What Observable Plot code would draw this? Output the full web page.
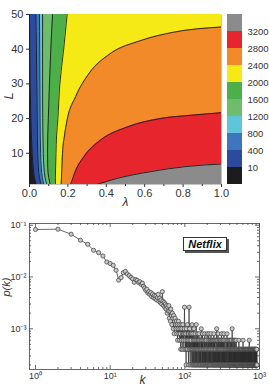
<!DOCTYPE html>
<html>
<head>
<meta charset="utf-8">
<script src="https://cdn.jsdelivr.net/npm/d3@7"></script>
<script src="https://cdn.jsdelivr.net/npm/@observablehq/plot@0.6"></script>
<style>
  body { margin: 0; background: #fff; }
  #fig { position: relative; width: 269px; height: 388px; overflow: hidden; background: #fff; }
  #fig svg { position: absolute; }
  #tag {
    position: absolute; left: 183px; top: 237px; width: 42px; height: 12px;
    border: 1px solid #333; box-shadow: 2px 2px 0 #555; background: #fff;
    font: italic bold 11px "Liberation Sans", Arial, sans-serif;
    text-align: center; line-height: 12px; color: #111;
  }
</style>
</head>
<body>
<div id="fig"><div id="tag">Netflix</div></div>
<script>
// ---- Contour map of the score over (λ, L) ----
// Near-vertical level lines: λ position of each line at these L rows
const rowsL   = [1, 3, 6, 10, 15, 20, 30, 40, 50];
const lam10   = [0.034, 0.026, 0.019, 0.014, 0.010, 0.007, 0.003, 0.001, 0.000];
const lam400  = [0.060, 0.052, 0.046, 0.043, 0.041, 0.040, 0.038, 0.036, 0.033];
const lam800  = [0.075, 0.067, 0.061, 0.058, 0.056, 0.055, 0.054, 0.053, 0.052];
const lam1200 = [0.090, 0.081, 0.075, 0.072, 0.070, 0.069, 0.068, 0.068, 0.068];
const lam1600 = [0.108, 0.100, 0.095, 0.094, 0.095, 0.098, 0.104, 0.111, 0.120];
const lam2000 = [0.135, 0.135, 0.136, 0.138, 0.141, 0.148, 0.158, 0.178, 0.196];

// Upper level lines: L against λ
const lam2400 = [0.165, 0.168, 0.172, 0.182, 0.196, 0.24, 0.31, 0.42, 0.58, 0.75, 1.0];
const L2400   = [1, 5, 10, 15, 19.6, 26.3, 33, 38.7, 42.5, 44.9, 46.4];
const lam2800 = [0.214, 0.24, 0.283, 0.37, 0.51, 0.68, 0.85, 1.0];
const L2800   = [1, 5, 9, 13.8, 17.6, 20, 21, 21.7];
const lam3200 = [0.35, 0.46, 0.63, 0.82, 1.0];
const L3200   = [1, 2.8, 4.7, 6.2, 6.9];

// Colour key: band colours from lowest to highest, labels at band edges
const levelLabels = ["10", "400", "800", "1200", "1600", "2000", "2400", "2800", "3200"];
const bandColors  = ["#1c1c1c", "#2d4b9e", "#3e76bd", "#5fc6da", "#6dbd6d",
                     "#4caf4a", "#f5ea16", "#f38a2a", "#e6262c", "#8b8b8b"];

// ---- Degree distribution p(k), Netflix ----
// p(k) for k = 1..100
const headP = [
  0.0826, 0.0837, 0.0670, 0.0513, 0.0428, 0.0328, 0.0296, 0.0255, 0.0195, 0.0182,
  0.0168, 0.0135, 0.0087, 0.0097, 0.0121, 0.0128, 0.0114, 0.0106, 0.0098, 0.0092,
  0.0079, 0.0089, 0.0086, 0.0078, 0.0081, 0.0072, 0.0076, 0.0066, 0.0061, 0.0055,
  0.0058, 0.0049, 0.0052, 0.0046, 0.0050, 0.0042, 0.0047, 0.0040, 0.0044, 0.0038,
  0.0043, 0.0036, 0.0040, 0.0046, 0.0034, 0.0039, 0.0032, 0.0036, 0.0030, 0.0052,
  0.0034, 0.0028, 0.0032, 0.0026, 0.0030, 0.0024, 0.0028, 0.0020, 0.0026, 0.0022,
  0.0028, 0.0016, 0.0022, 0.0014, 0.0024, 0.0018, 0.0012, 0.0020, 0.0016, 0.0010,
  0.0018, 0.0008, 0.0014, 0.0016, 0.0012, 0.0010, 0.0014, 0.0008, 0.0012, 0.0006,
  0.0010, 0.0014, 0.0008, 0.0012, 0.0006, 0.0010, 0.0008, 0.0004, 0.0012, 0.0006,
  0.0010, 0.0004, 0.0008, 0.0012, 0.0006, 0.0008, 0.0004, 0.0010, 0.0026, 0.0008
];
// Tail k = 101..930: counts in units of pUnit (base-36 digit per k, 0 = no node)
const pUnit = 2.0e-4;
const tailCounts = [
  "3241523624", "314d253142", "3421621423", "1521324123", "1621321423",
  "2130412312", "0213152031", "2410312021", "3102401312", "0213021041",
  "1020312041", "0210301203", "1024010302", "1030201201", "3010402103",
  "0120301021", "2010305102", "0301020140", "1020301202", "0130102031",
  "0102030104", "0201020103", "1002010301", "0204010020", "1030100201",
  "0102003010", "2010104020", "0301002010", "1020030102", "0010201030",
  "2001020103", "0102010020", "1030020105", "0201001020", "1002030100",
  "2010020103", "0100201020", "1030010201", "0020103002", "1001020100",
  "1002001000", "2010010020", "0100200103", "0020010001", "2000100200",
  "1002001020", "0100020010", "0200100201", "0010002001", "2001000100",
  "0300100020", "1000200100", "0102000010", "2000100201", "0010020001",
  "0200100020", "1001000200", "0020010001", "2000102000", "0100200010",
  "0020001002", "1000200100", "0102000030", "0010020001", "2001000100",
  "0200100020", "1000200010", "0020010002", "0100020001", "2001000100",
  "0010200020", "1000100200", "0200010010", "0010200002", "1000100200",
  "0020001001", "2000100020", "0100200010", "0020010002", "1001000200",
  "0200100010", "0010020001", "2000100100"
].join("");

const font = "'Liberation Sans', Arial, Helvetica, sans-serif";
const ink = "#333";

// ---------- top panel ----------
const leftRows = lams => rowsL.map((L, i) => ({lam: lams[i], L}));
const upperRows = (lams, Ls) => lams.map((lam, i) => ({lam, L: Ls[i]}));
const fillLeft = (lams, color) =>
  Plot.areaX(leftRows(lams), {y: "L", x1: () => 0, x2: "lam", fill: color, curve: "monotone-y", clip: true});
const fillUpper = (lams, Ls, color) =>
  Plot.areaY([{lam: 0, L: 1}, ...upperRows(lams, Ls)],
    {x: "lam", y1: "L", y2: () => 50, fill: color, curve: "monotone-x", clip: true});
const lineStyle = {stroke: "#151515", strokeWidth: 0.85, clip: true};
const lineLeft = lams => Plot.line(leftRows(lams), {x: "lam", y: "L", curve: "monotone-y", ...lineStyle});
const lineUpper = (lams, Ls) => Plot.line(upperRows(lams, Ls), {x: "lam", y: "L", curve: "monotone-x", ...lineStyle});

const topChart = Plot.plot({
  width: 269, height: 212,
  marginLeft: 29, marginRight: 48, marginTop: 14, marginBottom: 28,
  x: {domain: [0, 1]},
  y: {domain: [1, 50]},
  style: {fontFamily: font, fontSize: "11px", color: ink, background: "none", overflow: "visible"},
  marks: [
    Plot.frame({fill: bandColors[9], stroke: null}),
    fillUpper(lam3200, L3200, bandColors[8]),
    fillUpper(lam2800, L2800, bandColors[7]),
    fillUpper(lam2400, L2400, bandColors[6]),
    fillLeft(lam2000, bandColors[5]),
    fillLeft(lam1600, bandColors[4]),
    fillLeft(lam1200, bandColors[3]),
    fillLeft(lam800, bandColors[2]),
    fillLeft(lam400, bandColors[1]),
    fillLeft(lam10, bandColors[0]),
    lineUpper(lam3200, L3200),
    lineUpper(lam2800, L2800),
    lineUpper(lam2400, L2400),
    lineLeft(lam2000), lineLeft(lam1600), lineLeft(lam1200),
    lineLeft(lam800), lineLeft(lam400), lineLeft(lam10),
    Plot.axisX({ticks: [0, 0.2, 0.4, 0.6, 0.8, 1.0], tickFormat: d3.format(".1f"),
      tickSize: 3, tickPadding: 2, label: null, stroke: ink}),
    Plot.tickX([0.1, 0.3, 0.5, 0.7, 0.9], {x: d => d, insetTop: 170, insetBottom: -2, stroke: ink}),
    Plot.axisY({ticks: [10, 20, 30, 40, 50], tickSize: 3, tickPadding: 3, label: null, stroke: ink}),
    Plot.text(["L"], {text: d => d, frameAnchor: "left", dx: -21, rotate: -90,
      fontStyle: "italic", fontSize: 13, fill: ink}),
    Plot.text(["λ"], {text: d => d, frameAnchor: "bottom", dy: 21,
      fontStyle: "italic", fontSize: 12, fill: ink})
  ]
});

// ---------- colour key ----------
const keyChart = Plot.plot({
  width: 47, height: 212,
  marginLeft: 5, marginRight: 27, marginTop: 14, marginBottom: 28,
  y: {domain: [0, 10]},
  color: {type: "identity"},
  style: {fontFamily: font, fontSize: "9.5px", color: ink, background: "none", overflow: "visible"},
  marks: [
    Plot.rect(bandColors, {y1: (d, i) => i, y2: (d, i) => i + 1, fill: d => d}),
    Plot.axisY({anchor: "right", ticks: d3.range(1, 10), tickFormat: i => levelLabels[i - 1],
      tickSize: 0, tickPadding: 5, label: null})
  ]
});

// ---------- bottom panel ----------
const degreeRows = [
  ...headP.map((p, i) => ({k: i + 1, p})),
  ...Array.from(tailCounts).flatMap((c, i) => {
    const n = parseInt(c, 36);
    return n ? [{k: 101 + i, p: n * pUnit}] : [];
  })
];

const sup = {"-": "⁻", "0": "⁰", "1": "¹", "2": "²", "3": "³"};
const pow10 = v => "10" + String(Math.round(Math.log10(v))).split("").map(c => sup[c]).join("");

const xDomain = [0.831, 1000], yDomain = [1.633e-4, 0.1079];
const fw = 230, fh = 146;
const xMajor = [1, 10, 100, 1000], yMajor = [1e-3, 1e-2, 1e-1];
const xMinor = [], yMinor = [];
for (const e of [0, 1, 2]) for (let m = 2; m <= 9; m++) xMinor.push(m * 10 ** e);
for (const e of [-4, -3, -2]) for (let m = 2; m <= 9; m++) {
  const v = m * 10 ** e;
  if (v >= yDomain[0] && v <= yDomain[1]) yMinor.push(v);
}
const tk = {stroke: "#444", strokeWidth: 0.8};

const bottomChart = Plot.plot({
  width: 269, height: 176,
  marginLeft: 29, marginRight: 10, marginTop: 11, marginBottom: 19,
  x: {type: "log", domain: xDomain},
  y: {type: "log", domain: yDomain},
  style: {fontFamily: font, fontSize: "9px", color: ink, background: "none", overflow: "visible"},
  marks: [
    Plot.frame({stroke: "#444", strokeWidth: 0.8}),
    Plot.tickX(xMajor, {x: d => d, insetTop: fh - 4, ...tk}),
    Plot.tickX(xMajor, {x: d => d, insetBottom: fh - 4, ...tk}),
    Plot.tickX(xMinor, {x: d => d, insetTop: fh - 2, ...tk}),
    Plot.tickX(xMinor, {x: d => d, insetBottom: fh - 2, ...tk}),
    Plot.tickY(yMajor, {y: d => d, insetRight: fw - 4, ...tk}),
    Plot.tickY(yMajor, {y: d => d, insetLeft: fw - 4, ...tk}),
    Plot.tickY(yMinor, {y: d => d, insetRight: fw - 2, ...tk}),
    Plot.tickY(yMinor, {y: d => d, insetLeft: fw - 2, ...tk}),
    Plot.line(degreeRows, {x: "k", y: "p", stroke: "#2b2b2b", strokeWidth: 0.7}),
    Plot.dot(degreeRows, {x: "k", y: "p", r: 2.1, fill: "#c8c8c8", stroke: "#3a3a3a", strokeWidth: 0.7}),
    Plot.axisX({ticks: xMajor, tickFormat: pow10, tickSize: 0, tickPadding: 3, label: null}),
    Plot.axisY({ticks: yMajor, tickFormat: pow10, tickSize: 0, tickPadding: 3, label: null}),
    Plot.text(["k"], {text: d => d, frameAnchor: "bottom", dy: 14, dx: -2,
      fontStyle: "italic", fontSize: 12, fill: ink}),
    Plot.text(["p(k)"], {text: d => d, frameAnchor: "left", dx: -23, rotate: -90,
      fontStyle: "italic", fontSize: 11, fill: ink})
  ]
});

const fig = document.getElementById("fig");
topChart.style.left = "0px"; topChart.style.top = "0px";
keyChart.style.left = "222px"; keyChart.style.top = "0px";
bottomChart.style.left = "0px"; bottomChart.style.top = "212px";
fig.insertBefore(bottomChart, fig.firstChild);
fig.insertBefore(keyChart, fig.firstChild);
fig.insertBefore(topChart, fig.firstChild);
</script>
</body>
</html>
